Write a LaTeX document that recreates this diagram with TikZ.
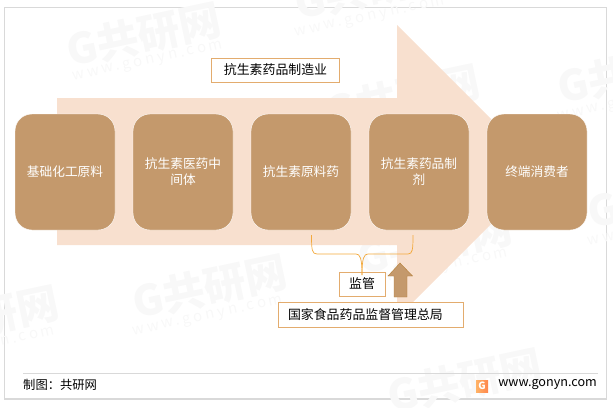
\documentclass[tikz,border=0pt]{standalone}
\usepackage{fontspec}
\setmainfont{Noto Sans CJK SC}
\usetikzlibrary{positioning}
\definecolor{bandcolor}{HTML}{F8E0CF}
\definecolor{boxcolor}{HTML}{C4996C}
\definecolor{linecolor}{HTML}{E3AC6E}
\definecolor{bracecolor}{HTML}{F3A93C}
\definecolor{markcolor}{HTML}{F8F8F8}
\definecolor{framecolor}{HTML}{D9D9D9}
\definecolor{edgecolor}{HTML}{B57F35}
\begin{document}
\begin{tikzpicture}[x=1pt,y=-1pt,node distance=17.6pt,
        stage/.style={
            rectangle,
            rounded corners=17pt,
            draw=white, thin,
            fill=boxcolor,
            text=white,
            minimum width=100pt,
            minimum height=116pt,
            align=center,
            font=\fontsize{12.7}{16}\selectfont},
        label/.style={
            rectangle,
            draw=linecolor, thick,
            fill=white,
            inner sep=0pt,
            font=\fontsize{12.9}{15}\selectfont},
        wmark/.style={
            text=markcolor,
            rotate=12,
            font=\fontsize{42}{44}\selectfont\bfseries},
        wurl/.style={
            text=markcolor,
            rotate=12,
            font=\fontsize{15}{17}\selectfont\addfontfeature{LetterSpace=20}}
        ]
    \useasboundingbox (0,0) rectangle (613,407);
    \draw [framecolor, line width=1.3pt] (4.5,7.5) rectangle (606.5,399);

    % watermarks
    \node [wmark] at (144,35) {G共研网};
    \node [wurl] at (148,62) {www.gonyn.com};
    \node [wmark] at (210,287) {G共研网};
    \node [wurl] at (208,317) {www.gonyn.com};
    \node [wmark] at (-18,318) {G共研网};
    \node [wurl] at (-20,348) {www.gonyn.com};
    \node [wmark] at (435,243) {G共研网};
    \node [wurl] at (433,270) {www.gonyn.com};
    \node [wmark] at (465,381) {G共研网};
    \node [wmark] at (372,-12) {G共研网};
    \node [wurl] at (370,18) {www.gonyn.com};
    \node [wmark] at (403,97) {G共研网};
    \node [wmark] at (635,72) {G共研网};
    \node [wurl] at (633,102) {www.gonyn.com};
    \node [wmark] at (665,197) {G共研网};
    \node [wurl] at (663,227) {www.gonyn.com};

    \fill [bandcolor] (57,98) -- (397,98) -- (397,25) -- (543.5,171.5) -- (397,318) -- (397,245) -- (57,245) -- cycle;

    \node (base) [stage] at (65,172) {基础化工原料};
    \node (mid) [stage, right=of base] {抗生素医药中\\间体};
    \node (api) [stage, right=of mid] {抗生素原料药};
    \node (drug) [stage, right=of api] {抗生素药品制\\剂};
    \node (user) [stage, right=of drug] {终端消费者};

    \node (maker) [label, minimum width=128pt, minimum height=24pt] at (275.5,70) {抗生素药品制造业};
    \node (watch) [label, minimum width=46pt, minimum height=24pt] at (362,284) {监管};
    \node (admin) [label, minimum height=25pt, text width=165pt, inner xsep=10pt, align=left] at (370.5,314.5) {国家食品药品监督管理总局};

    \coordinate (left) at (311.5,235);
    \coordinate (right) at (413,235);
    \coordinate (tip) at (362,275);
    \draw [bracecolor, line width=0.7pt] (left) .. controls (311.5,250) and (312,254) .. (317,254) -- (356,254)
        .. controls (360,254) and (362,258) .. (tip);
    \draw [bracecolor, line width=0.7pt] (right) .. controls (413,250) and (412.5,254) .. (408,254) -- (368,254)
        .. controls (364,254) and (362,258) .. (tip);

    \fill [boxcolor, draw=edgecolor] (394,297) -- (394,276) -- (388,276) -- (400,263) -- (412.5,276) -- (407,276) -- (407,297) -- cycle;

    % footer
    \draw [framecolor] (23,373.5) -- (598,373.5);
    \node (source) [anchor=west, inner sep=0pt, font=\fontsize{12.3}{14}\selectfont] at (23,385) {制图：共研网};
    \node (site) [anchor=east, inner sep=0pt, font=\fontsize{12.6}{14}\selectfont] at (597,385) {www.gonyn.com};
    \node (logo) [left color=orange!60, right color=red!35!orange!70, minimum size=12pt, inner sep=0pt, text=white, font=\fontsize{10}{10}\selectfont\bfseries] at (482,386) {G};
\end{tikzpicture}
\end{document}
